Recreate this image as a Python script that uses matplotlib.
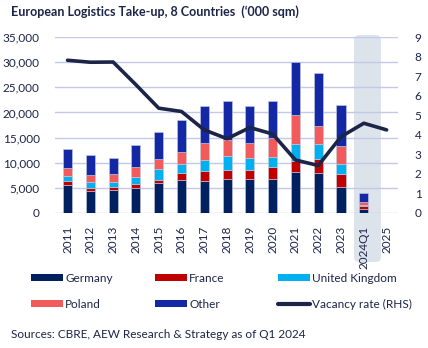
import matplotlib
matplotlib.use("Agg")
import matplotlib.pyplot as plt
from matplotlib.patches import Patch, FancyBboxPatch
from matplotlib.lines import Line2D
from matplotlib.transforms import IdentityTransform
import numpy as np

plt.rcParams['font.family'] = ['Lato', 'DejaVu Sans']

categories = ["2011", "2012", "2013", "2014", "2015", "2016", "2017", "2018",
              "2019", "2020", "2021", "2022", "2023", "2024Q1", "2025"]
germany = [5650, 4400, 4600, 5050, 5900, 6650, 6300, 6850, 6850, 6800, 8200, 8000, 5200, 750, np.nan]
france = [740, 650, 600, 800, 680, 1330, 2000, 1800, 1800, 2250, 2130, 2730, 2600, 550, np.nan]
uk = [1000, 1150, 1000, 1330, 2130, 1860, 2330, 2730, 2330, 2060, 3460, 3060, 2000, 350, np.nan]
poland = [1600, 1330, 1500, 1930, 1930, 2330, 3330, 3130, 2920, 3720, 5720, 3530, 3460, 500, np.nan]
other = [3650, 4060, 3150, 4320, 5520, 6390, 7380, 7710, 7390, 7520, 10570, 10510, 8250, 1750, np.nan]
vacancy = [7.81, 7.71, 7.72, 6.56, 5.36, 5.19, 4.25, 3.80, 4.37, 4.04, 2.71, 2.43, 3.90, 4.59, 4.25]

left_ticks = [0, 5000, 10000, 15000, 20000, 25000, 30000, 35000]
right_ticks = list(range(0, 10))

series = [("Germany", germany, "#002060"), ("France", france, "#c00000"),
          ("United Kingdom", uk, "#00b0f0"), ("Poland", poland, "#f15b5b"),
          ("Other", other, "#1428a6")]
line_color = "#1c2448"
text_color = "#1c2448"

W, H = 428, 348
fig = plt.figure(figsize=(W / 100, H / 100), dpi=100)
ax = fig.add_axes([55 / W, 1 - 213 / H, (398 - 55) / W, (213 - 37) / H])
ax.patch.set_visible(False)
x = np.arange(len(categories))

bottom = np.zeros(len(categories))
for name, vals, col in series:
    v = np.array(vals, dtype=float)
    ax.bar(x, v, 0.4, bottom=bottom, color=col, edgecolor="#c9cde0", linewidth=0.4, zorder=2)
    bottom = bottom + np.nan_to_num(v)

ax.set_xlim(-0.55, 14.5)
ax.set_ylim(0, 35000)
ax.set_yticks(left_ticks)
ax.set_yticklabels([f"{t:,}" for t in left_ticks])
ax.grid(axis="y", color="#c3c9ea", linewidth=1.0, zorder=0)
ax.set_axisbelow(True)
ax.set_xticks(x)
ax.set_xticklabels(categories, rotation=90)
for s in ax.spines.values():
    s.set_visible(False)
ax.tick_params(axis="both", length=0, colors=text_color, labelsize=8.5)
ax.tick_params(axis="y", pad=11)
ax.tick_params(axis="x", pad=9)

ax2 = ax.twinx()
ax2.plot(x, vacancy, color=line_color, linewidth=2.6, solid_capstyle="round", zorder=3)
ax2.set_ylim(0, 9)
ax2.set_yticks(right_ticks)
for s in ax2.spines.values():
    s.set_visible(False)
ax2.tick_params(axis="y", length=0, colors=text_color, labelsize=8.5, pad=12)

# shaded highlight for 2024Q1
fig.canvas.draw()
x0 = ax.transData.transform((12.57, 0))[0]
x1 = ax.transData.transform((13.75, 0))[0]
ytop = H - 35
ybot = H - 262
shade = FancyBboxPatch((x0, ybot), x1 - x0, ytop - ybot,
                       boxstyle="round,pad=0,rounding_size=5",
                       transform=IdentityTransform(), facecolor="#dde3ea",
                       edgecolor="none", zorder=-1)
fig.patches.append(shade)

fig.text(11 / W, 1 - 12 / H, "European Logistics Take-up, 8 Countries  (\u2018000 sqm)",
         fontsize=9, fontweight="bold", color=text_color, va="center", ha="left")

handles = [Patch(facecolor=c, label=n) for n, _, c in series]
handles.append(Line2D([0], [0], color=line_color, linewidth=3, solid_capstyle="round",
                      label="Vacancy rate (RHS)"))
cols = [[handles[0], handles[3]], [handles[1], handles[4]], [handles[2], handles[5]]]
col_x = [31, 155, 278]
for hs, cx in zip(cols, col_x):
    leg = fig.legend(handles=hs, loc="upper left", bbox_to_anchor=(cx / W, 1 - 273 / H),
                     frameon=False, fontsize=8.5, handlelength=2.7, handleheight=0.55,
                     handletextpad=0.2, labelspacing=1.25, borderaxespad=0, borderpad=0)
    for t in leg.get_texts():
        t.set_color(text_color)

fig.text(11 / W, 1 - 335 / H, "Sources: CBRE, AEW Research & Strategy as of Q1 2024",
         fontsize=8.5, color=text_color, va="center", ha="left")

fig.savefig("out.png", dpi=100)
